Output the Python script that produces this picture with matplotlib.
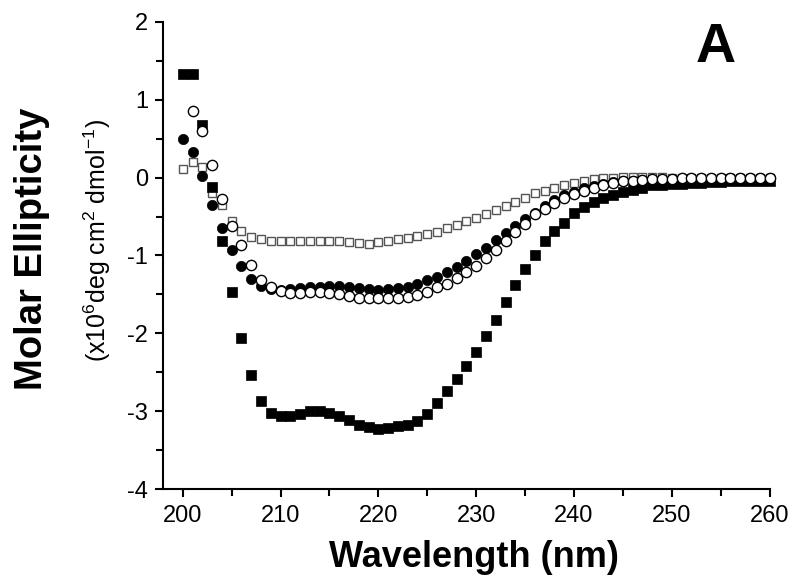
import numpy as np
import matplotlib
matplotlib.use("Agg")
import matplotlib.pyplot as plt
from matplotlib import font_manager as fm
from matplotlib.ticker import MultipleLocator

wavelength = list(range(200, 261))

filled_squares = [1.33, 1.33, 0.67, -0.12, -0.82, -1.47, -2.06, -2.53, -2.87, -3.02,
                  -3.06, -3.06, -3.03, -3.00, -3.00, -3.02, -3.06, -3.11, -3.17, -3.20,
                  -3.22, -3.21, -3.19, -3.17, -3.12, -3.03, -2.89, -2.74, -2.58, -2.42,
                  -2.24, -2.03, -1.83, -1.60, -1.38, -1.17, -0.99, -0.82, -0.69, -0.58,
                  -0.46, -0.38, -0.31, -0.26, -0.23, -0.19, -0.16, -0.13, -0.10, -0.09,
                  -0.08, -0.08, -0.07, -0.07, -0.06, -0.06, -0.05, -0.05, -0.05, -0.04,
                  -0.04]

open_squares = [0.11, 0.20, 0.13, -0.20, -0.35, -0.56, -0.69, -0.76, -0.79, -0.81,
                -0.82, -0.82, -0.82, -0.82, -0.82, -0.82, -0.82, -0.83, -0.84, -0.85,
                -0.83, -0.81, -0.79, -0.77, -0.75, -0.73, -0.70, -0.65, -0.61, -0.56,
                -0.52, -0.47, -0.42, -0.36, -0.31, -0.26, -0.20, -0.17, -0.13, -0.09,
                -0.07, -0.04, -0.02, -0.01, 0.00, 0.01, 0.01, 0.01, 0.01, 0.01,
                0.00, 0.00, 0.00, 0.00, 0.00, 0.00, 0.00, 0.00, 0.00, 0.00,
                0.00]

filled_circles = [0.50, 0.33, 0.02, -0.35, -0.65, -0.93, -1.14, -1.30, -1.39, -1.43,
                  -1.44, -1.43, -1.42, -1.41, -1.40, -1.39, -1.39, -1.41, -1.42, -1.43,
                  -1.44, -1.43, -1.42, -1.41, -1.37, -1.32, -1.27, -1.21, -1.15, -1.07,
                  -0.98, -0.90, -0.80, -0.71, -0.62, -0.53, -0.45, -0.36, -0.29, -0.23,
                  -0.18, -0.14, -0.11, -0.08, -0.06, -0.05, -0.04, -0.03, -0.03, -0.03,
                  -0.03, -0.02, -0.02, -0.02, -0.02, -0.02, -0.01, -0.01, -0.01, -0.01,
                  -0.01]

open_circles = [np.nan, 0.86, 0.60, 0.16, -0.28, -0.62, -0.86, -1.12, -1.31, -1.41,
                -1.46, -1.48, -1.48, -1.47, -1.47, -1.48, -1.50, -1.52, -1.54, -1.54,
                -1.54, -1.54, -1.54, -1.53, -1.51, -1.47, -1.41, -1.36, -1.29, -1.21,
                -1.13, -1.03, -0.93, -0.82, -0.70, -0.60, -0.47, -0.40, -0.32, -0.26,
                -0.21, -0.17, -0.13, -0.10, -0.07, -0.05, -0.04, -0.03, -0.02, -0.02,
                -0.02, -0.01, -0.01, -0.01, -0.01, -0.01, 0.00, 0.00, 0.00, 0.00,
                0.00]

x_ticks = [200, 210, 220, 230, 240, 250, 260]
y_ticks = [-4, -3, -2, -1, 0, 1, 2]

names = {f.name for f in fm.fontManager.ttflist}
base = "Liberation Sans" if "Liberation Sans" in names else "DejaVu Sans"
plt.rcParams["font.family"] = [base, "DejaVu Sans"]
plt.rcParams["mathtext.fontset"] = "custom"
plt.rcParams["mathtext.rm"] = base
plt.rcParams["mathtext.it"] = base
plt.rcParams["axes.unicode_minus"] = False

fig = plt.figure(figsize=(8, 5.83), dpi=100)
ax = fig.add_axes([0.204, 0.1607, 0.758, 0.8021])

ax.plot(wavelength, open_squares, ls="none", marker="s", ms=6.3, mfc="white",
        mec="#555555", mew=1.0, clip_on=False, zorder=3)
ax.plot(wavelength, filled_squares, ls="none", marker="s", ms=6.6, mfc="black",
        mec="black", mew=0.5, clip_on=False, zorder=4)
ax.plot(wavelength, filled_circles, ls="none", marker="o", ms=7.4, mfc="black",
        mec="black", mew=0.5, clip_on=False, zorder=5)
ax.plot(wavelength, open_circles, ls="none", marker="o", ms=7.4, mfc="white",
        mec="black", mew=1.0, clip_on=False, zorder=6)

ax.set_xlim(198, 260)
ax.set_ylim(-4, 2)
ax.set_xticks(x_ticks)
ax.set_yticks(y_ticks)
ax.xaxis.set_minor_locator(MultipleLocator(5))
ax.yaxis.set_minor_locator(MultipleLocator(0.5))
for s in ["top", "right"]:
    ax.spines[s].set_visible(False)
for s in ["left", "bottom"]:
    ax.spines[s].set_linewidth(1.5)
ax.tick_params(which="major", direction="out", length=6, width=1.5,
               labelsize=17, pad=5)
ax.tick_params(which="minor", direction="out", length=5, width=1.5)

fig.text(0.5925, 0.043, "Wavelength (nm)", ha="center", va="center",
         fontsize=26, fontweight="bold")
fig.text(0.040, 0.574, "Molar Ellipticity", ha="center", va="center",
         rotation=90, fontsize=27.5, fontweight="bold")
fig.text(0.122, 0.588, r"(x10$^{6}$deg cm$^{2}$ dmol$^{-1}$)", ha="center",
         va="center", rotation=90, fontsize=18)
fig.text(0.895, 0.918, "A", ha="center", va="center", fontsize=40,
         fontweight="bold")

fig.savefig("out.png", dpi=100)
